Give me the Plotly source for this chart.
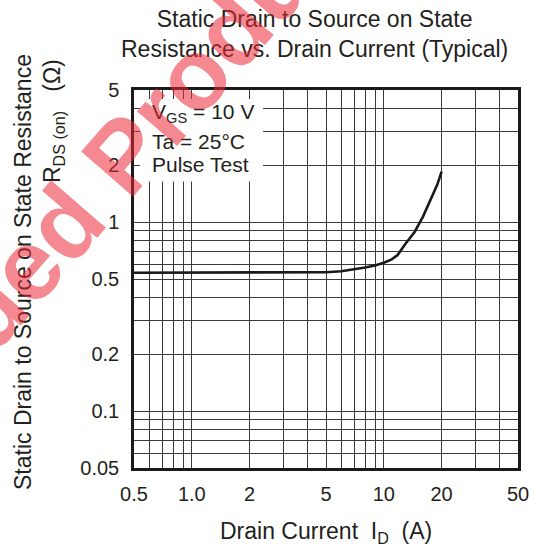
import numpy as np
import plotly.graph_objects as go

# ---- data ----
drain_current = [0.5, 1, 2, 3, 4, 5, 6, 7, 8, 9, 10, 11, 11.8, 13, 14.5, 16, 17.5, 19, 20]
rds_on = [0.54, 0.54, 0.54, 0.54, 0.54, 0.543, 0.55, 0.562, 0.575, 0.59, 0.61, 0.635,
          0.67, 0.77, 0.89, 1.07, 1.3, 1.58, 1.85]

x_grid_vals = [0.5, 0.6, 0.7, 0.8, 0.9, 1, 2, 3, 4, 5, 6, 7, 8, 9, 10, 20, 30, 40, 50]
x_grid_text = ["0.5", "", "", "", "", "1.0", "2", "", "", "5", "", "", "", "", "10", "20", "", "", "50"]
y_grid_vals = [0.05, 0.06, 0.07, 0.08, 0.09, 0.1, 0.2, 0.3, 0.4, 0.5, 0.6, 0.7, 0.8, 0.9, 1, 2, 3, 4, 5]
y_grid_text = ["0.05", "", "", "", "", "0.1", "0.2", "", "", "0.5", "", "", "", "", "1", "2", "", "", "5"]

title_text = "Static Drain to Source on State<br>Resistance vs. Drain Current (Typical)"
x_title = "Drain Current  I<sub>D</sub>  (A)"
y_title_1 = "Static Drain to Source on State Resistance"
y_title_2 = "R<sub>DS (on)</sub>   (Ω)"
cond_lines = ["V<sub>GS</sub> = 10 V", "Ta = 25°C", "Pulse Test"]
watermark = "Discontinued Product"

FONT = "Liberation Sans, Arial, Helvetica, sans-serif"
TXT = "#231f20"

W, H = 536, 553
L, R, T, B = 134, 18, 90, 85
PW, PH = W - L - R, H - T - B


def px(xp):
    return (xp - L) / PW


def py(yp):
    return (H - B - yp) / PH


fig = go.Figure()
fig.add_trace(go.Scatter(x=drain_current, y=rds_on, mode="lines",
                         line=dict(color="#1a1a1a", width=2.6),
                         hoverinfo="skip", showlegend=False))

axis_common = dict(type="log", showgrid=True, gridcolor="#3a3a3a", gridwidth=1,
                   showline=True, linecolor="#1a1a1a", linewidth=2.5, mirror=True,
                   ticks="", zeroline=False, automargin=False,
                   tickfont=dict(family=FONT, size=20, color=TXT))

fig.update_xaxes(range=[np.log10(0.5), np.log10(50)], tickmode="array",
                 tickvals=x_grid_vals, ticktext=x_grid_text,
                 ticklabelstandoff=6, **axis_common)
fig.update_yaxes(range=[np.log10(0.05), np.log10(5)], tickmode="array",
                 tickvals=y_grid_vals, ticktext=y_grid_text,
                 ticklabelstandoff=8, **axis_common)

# white box behind the condition text
fig.add_shape(type="rect", xref="x", yref="y", x0=0.537, x1=2.35, y0=1.64, y1=4.48,
              fillcolor="white", line=dict(width=0), layer="between")

ann = []
ann.append(dict(text=title_text, xref="paper", yref="paper", x=px(314), y=py(34),
                xanchor="center", yanchor="middle", showarrow=False,
                font=dict(family=FONT, size=23, color=TXT)))
ann.append(dict(text=x_title, xref="paper", yref="paper", x=px(326), y=py(532),
                xanchor="center", yanchor="middle", showarrow=False,
                font=dict(family=FONT, size=23, color=TXT)))
ann.append(dict(text=y_title_1, xref="paper", yref="paper", x=px(23), y=py(272),
                xanchor="center", yanchor="middle", showarrow=False, textangle=-90,
                font=dict(family=FONT, size=23, color=TXT)))
ann.append(dict(text=y_title_2, xref="paper", yref="paper", x=px(54), y=py(121),
                xanchor="center", yanchor="middle", showarrow=False, textangle=-90,
                font=dict(family=FONT, size=23, color=TXT)))
for txt, yc in zip(cond_lines, [113, 141, 164]):
    ann.append(dict(text=txt, xref="paper", yref="paper", x=px(150), y=py(yc),
                    xanchor="left", yanchor="middle", showarrow=False,
                    font=dict(family=FONT, size=21, color=TXT)))
ann.append(dict(text="<b>" + watermark + "</b>", xref="paper", yref="paper",
                x=px(9), y=py(286), xanchor="center", yanchor="middle",
                showarrow=False, textangle=-49,
                font=dict(family=FONT, size=100, color="rgba(236,40,55,0.55)")))

fig.update_layout(width=W, height=H, margin=dict(l=L, r=R, t=T, b=B),
                  paper_bgcolor="white", plot_bgcolor="white",
                  annotations=ann, showlegend=False)

fig.write_html("out.html", config={"displayModeBar": False},
               post_script="document.body.style.margin='0';")
